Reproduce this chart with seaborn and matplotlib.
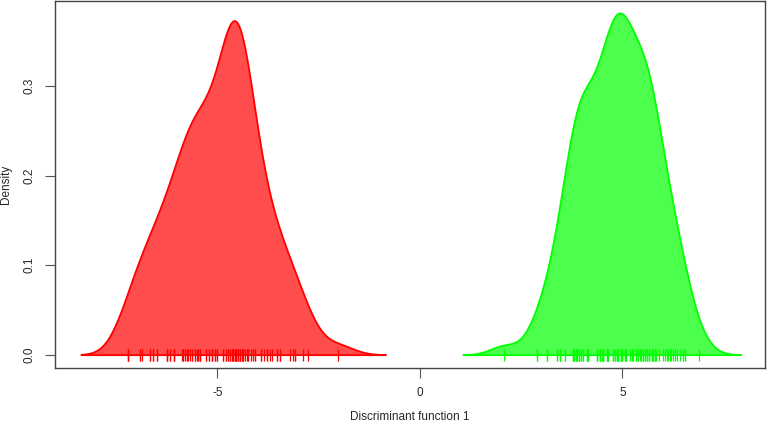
import numpy as np
import matplotlib
matplotlib.use("Agg")
import matplotlib.pyplot as plt
import seaborn as sns

# discriminant function 1 scores, read off the rug marks
# (repeated values = marks that sit on top of each other)
group1_scores = [-7.20, -7.20, -7.20,
                 -6.91, -6.91, -6.86, -6.67, -6.67, -6.59, -6.59,
                 -6.48, -6.48, -6.24, -6.24, -6.24, -6.17, -6.17, -6.07, -6.07, -6.07,
                 -5.88, -5.84, -5.84, -5.80, -5.76, -5.76, -5.72, -5.68, -5.62, -5.62,
                 -5.56, -5.56, -5.51,
                 -5.47, -5.47, -5.43, -5.43, -5.43, -5.27, -5.27, -5.20, -5.20,
                 -5.14, -5.14, -5.14, -5.06, -5.06, -5.02, -5.02,
                 -4.86, -4.86, -4.79, -4.79, -4.73, -4.73, -4.69, -4.69, -4.65, -4.65,
                 -4.61, -4.61, -4.57, -4.57, -4.57, -4.53, -4.53, -4.53, -4.53,
                 -4.49, -4.49, -4.49, -4.44, -4.44, -4.44, -4.40, -4.40, -4.36, -4.36,
                 -4.32, -4.28, -4.24, -4.24, -4.16, -4.12, -4.07, -4.07,
                 -3.93, -3.93, -3.84, -3.77, -3.77, -3.70, -3.64, -3.54, -3.54,
                 -3.46, -3.46, -3.21, -3.13, -3.09, -3.09,
                 -2.88, -2.76, -2.02]
group2_scores = [2.08, 2.90, 2.90,
                 3.13, 3.13, 3.39, 3.39, 3.46, 3.46, 3.46,
                 3.58, 3.58, 3.77, 3.77, 3.77, 3.81, 3.81, 3.85, 3.85, 3.85, 3.89, 3.89,
                 3.93, 3.93, 3.93, 3.98, 3.98,
                 4.02, 4.02, 4.12, 4.12, 4.12, 4.16, 4.16, 4.16, 4.36, 4.36, 4.36,
                 4.44, 4.44, 4.44, 4.49, 4.49, 4.49,
                 4.53, 4.53, 4.53, 4.61, 4.61, 4.61, 4.65, 4.65, 4.77, 4.77, 4.77,
                 4.81, 4.81, 4.86, 4.86, 4.86, 4.90, 4.90, 4.90, 4.90,
                 4.96, 4.96, 4.96, 4.96,
                 5.00, 5.00, 5.00, 5.06, 5.06, 5.06, 5.10, 5.10, 5.19, 5.19, 5.23,
                 5.27, 5.27, 5.33, 5.33, 5.39, 5.39, 5.43, 5.47, 5.47,
                 5.51, 5.51, 5.56, 5.56, 5.56, 5.60, 5.60, 5.66, 5.66, 5.66,
                 5.72, 5.72, 5.72, 5.76, 5.76, 5.80, 5.80, 5.80, 5.84, 5.91,
                 6.01, 6.05, 6.09, 6.13, 6.17, 6.21, 6.25, 6.30, 6.34, 6.42, 6.49,
                 6.54, 6.54, 6.90]
group_colors = ["#FF0000", "#00FF00"]
group_bw = [0.39, 0.34]  # kernel bandwidths of the two density curves
x_ticks = [-5, 0, 5]
y_ticks = [0.0, 0.1, 0.2, 0.3]

sns.set_style("white")
plt.rcParams["font.family"] = ["Liberation Sans", "DejaVu Sans"]

fig = plt.figure(figsize=(7.67, 4.23), dpi=100)
ax = fig.add_axes([0.0717, 0.130, 0.9257, 0.8676])

for scores, col, bw in zip([group1_scores, group2_scores], group_colors, group_bw):
    sd = np.std(scores, ddof=1)
    sns.kdeplot(x=scores, ax=ax, fill=True, color=col, alpha=0.7,
                bw_method=bw / sd, cut=3, gridsize=512,
                edgecolor=col, linewidth=1.3)
    # rug of individual scores along y = 0
    sns.scatterplot(x=scores, y=np.zeros(len(scores)), ax=ax, marker="|",
                    s=75, linewidth=0.9, color=col, legend=False)

ax.set_xlim(-9.01, 8.52)
ax.set_ylim(-0.0149, 0.3948)
ax.set_xticks(x_ticks)
ax.set_yticks(y_ticks)
ax.set_xticklabels([str(t) for t in x_ticks], fontsize=8.5)
ax.set_yticklabels(["0.0", "0.1", "0.2", "0.3"], fontsize=8.5, rotation=90, va="center")
ax.tick_params(axis="both", direction="out", length=7, width=0.8, color="#555555",
               pad=7, left=True, bottom=True)
for s in ax.spines.values():
    s.set_visible(True)
    s.set_color("#444444")
    s.set_linewidth(1.0)

ax.set_xlabel("Discriminant function 1", fontsize=8.5, labelpad=8.5)
ax.set_ylabel("Density", fontsize=8.5, labelpad=8)

fig.savefig("out.png", dpi=100)
